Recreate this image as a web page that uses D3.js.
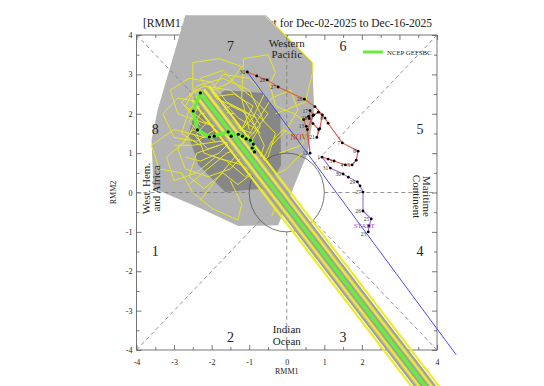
<!DOCTYPE html>
<html><head><meta charset="utf-8">
<script src="https://cdn.jsdelivr.net/npm/d3@7"></script>
<style>body{margin:0;background:#fff}svg{display:block}text{font-family:"Liberation Serif","Times New Roman",serif}</style>
</head><body><svg id="c" width="544" height="386"></svg>
<script>
// ---------- data ----------
const majorTicks = [-4,-3,-2,-1,0,1,2,3,4];
const minorTicks = [-3.5,-2.5,-1.5,-0.5,0.5,1.5,2.5,3.5];
const phaseNames = ["1","2","3","4","5","6","7","8"];
const phaseX = [-3.5,-1.5,1.5,3.55,3.55,1.5,-1.5,-3.5];
const phaseY = [-1.5,-3.67,-3.67,-1.5,1.6,3.72,3.72,1.6];

// ensemble spread polygons
const spreadLightX = [-2.70,-0.55,0.68,0.73,0.55,-0.23,-1.29,-2.30,-3.55,-3.60,-3.44];
const spreadLightY = [4.5,4.5,3.31,2.09,1.0,-0.83,-0.85,-0.40,0.11,1.33,2.09];
const spreadDarkX = [-2.43,-1.64,-0.65,-0.17,-0.15,-0.49,-1.64,-2.35,-2.62];
const spreadDarkY = [2.09,2.60,2.53,1.97,0.70,0.11,0.01,0.70,1.46];

// ensemble members (yellow)
const m1 = [[-0.9,1.3],[-1.4,1.8],[-2.0,2.2],[-2.5,2.6],[-2.5,3.3],[-1.8,3.4],[-1.2,3.2],[-1.5,2.8],[-2.2,2.5],[-2.6,2.1],[-2.8,1.5],[-2.3,1.2]];
const m2 = [[-1.0,1.6],[-1.2,2.4],[-1.15,3.4],[-0.5,3.5],[-0.3,3.05],[-0.45,2.75],[-0.3,2.2],[0.2,2.0],[0.6,1.7],[0.4,1.2],[-0.2,1.0]];
const m3 = [[-1.5,1.5],[-2.2,1.4],[-3.0,1.6],[-3.6,1.2],[-3.4,0.6],[-2.8,0.5],[-2.5,0.0],[-2.0,-0.4],[-1.3,-0.7],[-1.2,-0.3],[-1.5,0.3]];
const m4 = [[-1.8,1.2],[-2.4,1.0],[-2.6,0.4],[-2.2,0.1],[-1.7,0.5],[-1.3,0.2],[-0.9,0.5],[-0.5,0.9],[-0.3,1.5],[-0.8,2.0]];
const m5 = [[-2.0,1.7],[-2.9,2.0],[-3.1,2.6],[-2.6,2.9],[-2.0,2.8],[-1.6,2.3],[-1.0,2.0],[-0.6,1.2],[-0.8,0.6]];
const m6 = [[-1.3,1.4],[-1.7,2.1],[-2.3,2.0],[-2.7,1.3],[-3.2,0.9],[-3.0,0.3],[-2.4,0.5],[-1.9,0.9],[-1.2,0.7],[-0.6,0.3],[0.0,0.6],[0.4,1.0]];
const m7 = [[-0.6,1.8],[-1.0,2.6],[-1.7,2.9],[-2.4,2.7],[-2.7,2.2],[-2.2,1.8],[-1.7,1.6],[-1.0,1.1],[-0.5,0.4],[-0.2,-0.2],[-0.4,-0.6]];
const m8 = [[-0.4,1.2],[0.0,1.6],[0.3,2.1],[0.1,2.6],[-0.4,2.4],[-0.8,1.8],[-1.3,1.0],[-1.9,0.3],[-2.3,-0.2]];
const m9 = [[-2.2,1.4],[-2.6,1.8],[-2.2,2.4],[-1.4,2.5],[-0.9,2.2],[-1.2,1.6],[-1.8,1.0],[-2.3,0.8],[-2.7,0.9]];
const m10 = [[-1.6,1.9],[-2.0,2.6],[-1.7,3.0],[-1.0,2.9],[-0.6,2.5],[-0.9,1.9],[-1.5,1.3],[-2.1,1.1],[-2.5,1.5]];
const m11 = [[-0.3,2.0],[0.5,2.3],[0.7,3.1],[0.68,3.31],[-0.1,4.05],[-0.6,4.5]];
const m12 = [[-1.1,1.5],[-1.6,1.9],[-2.3,2.3],[-2.9,2.4],[-3.3,2.0],[-3.0,1.4],[-2.4,1.3],[-1.9,1.6],[-1.4,1.2],[-1.0,0.8]];
const m13 = [[-0.7,1.5],[-1.2,2.1],[-1.9,2.4],[-2.3,2.9],[-1.7,3.1],[-1.3,2.7],[-0.9,2.4],[-0.5,2.0],[-0.9,1.5],[-1.5,1.7]];
const m14 = [[-1.9,1.3],[-2.5,1.6],[-2.9,1.1],[-2.7,0.6],[-2.1,0.4],[-1.5,0.6],[-1.1,1.0],[-1.4,1.5],[-2.0,1.9],[-2.4,2.3]];
const m15 = [[-1.4,2.0],[-2.1,2.1],[-2.6,2.5],[-2.2,2.7],[-1.5,2.6],[-1.1,2.3],[-0.7,1.7],[-1.0,1.2],[-1.6,1.0],[-2.1,0.6],[-2.6,0.2]];
const m16 = [[-0.8,1.9],[-1.5,2.2],[-2.0,1.9],[-2.4,1.5],[-2.2,1.0],[-1.6,0.8],[-1.1,0.4],[-0.7,0.7],[-0.4,1.3],[-0.1,1.6],[0.3,1.4]];
const m17 = [[-2.3,1.7],[-2.8,2.3],[-2.4,2.6],[-1.9,2.5],[-1.3,1.9],[-0.8,1.6],[-1.2,1.2],[-1.8,1.3],[-2.5,1.2],[-3.0,1.2]];
const members = [m1,m2,m3,m4,m5,m6,m7,m8,m9,m10,m11,m12,m13,m14,m15,m16,m17];

// runaway band (members' last segments)
const bandStartX = [-2.53,-2.47,-2.41,-2.35,-2.25,-2.20,-2.13,-2.07];
const bandStartY = [2.36,2.41,2.45,2.49,2.57,2.61,2.65,2.70];
const bandEndX = [4.00,4.06,4.13,4.18,4.28,4.34,4.40,4.46];
const bandEndY = [-5.77,-5.72,-5.68,-5.64,-5.56,-5.52,-5.48,-5.43];
const bandKind = ["y","g","y","g","g","y","g","y"];

// ensemble mean forecast (green)
const fcX = [-0.86,-0.92,-0.89,-0.97,-1.08,-1.18,-1.29,-1.48,-1.56,-1.93,-2.06,-2.38,-2.49,-2.30];
const fcY = [1.03,1.13,1.23,1.33,1.36,1.43,1.48,1.43,1.54,1.43,1.41,1.59,2.07,2.53];
const fcFarX = 4.23, fcFarY = -5.60;

// observed track
const octX = [2.17,2.19,2.25,2.03,2.03,1.95,1.88,1.64,1.50,1.16];
const octY = [-1.00,-0.85,-0.67,-0.47,0.01,0.17,0.27,0.39,0.47,0.62];
const octLbl = ["23","","25","26","27","","29","","30","31"];
const novX = [0.94,1.10,1.26,1.56,1.74,1.85,1.90,1.48,1.10,1.02,0.84,0.70,0.55,0.62,0.52,0.45,0.58,0.72,0.62,0.60,0.70,0.85,0.80,0.88,0.95,0.75,0.47,-0.23,-0.52,-0.80,-1.05];
const novY = [0.90,0.85,0.80,0.70,0.70,0.82,1.05,1.26,1.76,1.89,2.04,1.95,1.60,1.00,1.68,1.85,1.93,1.97,2.08,1.88,1.75,1.60,1.40,1.62,1.97,2.18,2.37,2.68,2.86,2.96,3.06];
const novLbl = ["1","","3","4","5","","6","7","","8","","","","12","13","","","","17","18","","","21","","","","26","27","28","","30"];
const blueEnd = [4.51,-4.12];

// ---------- drawing ----------
const svg = d3.select("#c");
const x = d3.scaleLinear().domain([-4,4]).range([136.5,437]);
const y = d3.scaleLinear().domain([-4,4]).range([350,35]);
const line = d3.line().x(d=>x(d[0])).y(d=>y(d[1]));

const axG = svg.append("g");
function axis(gen, tr, vals, size, labels){
  const g = axG.append("g").attr("transform", tr).call(gen.tickValues(vals).tickSizeInner(size).tickSizeOuter(0)
      .tickFormat(labels ? (d=>String(d)) : "").tickPadding(labels ? 9 : 0));
  g.select(".domain").remove();
  g.selectAll("line").attr("stroke","#555").attr("stroke-width",0.8);
  g.selectAll("text").attr("font-size",8).attr("fill","#222").style("font-family",'"Liberation Serif",serif');
  return g;
}
axis(d3.axisBottom(x), "translate(0,350)", majorTicks, -5, true);
axis(d3.axisBottom(x), "translate(0,350)", minorTicks, -3, false);
axis(d3.axisTop(x), "translate(0,35)", majorTicks, -5, false);
axis(d3.axisTop(x), "translate(0,35)", minorTicks, -3, false);
axis(d3.axisLeft(y), "translate(136.5,0)", majorTicks, -5, true).selectAll("text").attr("x",-4);
axis(d3.axisLeft(y), "translate(136.5,0)", minorTicks, -3, false);
axis(d3.axisRight(y), "translate(437,0)", majorTicks, -5, false);
axis(d3.axisRight(y), "translate(437,0)", minorTicks, -3, false);
axG.append("rect").attr("x",x(-4)).attr("y",y(4)).attr("width",x(4)-x(-4)).attr("height",y(-4)-y(4))
  .attr("fill","none").attr("stroke","#555").attr("stroke-width",0.8);

// axis titles
svg.append("text").attr("x",x(0)).attr("y",374).attr("text-anchor","middle").attr("font-size",8).attr("fill","#222").text("RMM1");
svg.append("text").attr("transform",`translate(116,${y(0)}) rotate(-90)`).attr("text-anchor","middle").attr("font-size",8).attr("fill","#222").text("RMM2");

// title
svg.append("text").attr("x",143).attr("y",27).attr("font-size",11.5).attr("fill","#222").text("[RMM1,RMM2]");
svg.append("text").attr("x",432).attr("y",27).attr("text-anchor","end").attr("font-size",11.5).attr("fill","#222").text("Forecast for Dec-02-2025 to Dec-16-2025");

// spread polygons
svg.append("path").attr("d", line(d3.zip(spreadLightX, spreadLightY)) + "Z").attr("fill","#b3b3b3");
svg.append("path").attr("d", line(d3.zip(spreadDarkX, spreadDarkY)) + "Z").attr("fill","#878787");

// phase dividers
const dash = svg.append("g").attr("stroke","#7a7a7a").attr("stroke-width",0.8).attr("stroke-dasharray","4,3");
const r = Math.SQRT1_2;
[[-4,-4,-r,-r],[4,4,r,r],[-4,4,-r,r],[4,-4,r,-r],[-4,0,-1,0],[1,0,4,0],[0,1,0,4],[0,-1,0,-4]].forEach(s=>{
  dash.append("line").attr("x1",x(s[0])).attr("y1",y(s[1])).attr("x2",x(s[2])).attr("y2",y(s[3]));
});
svg.append("ellipse").attr("cx",x(0)).attr("cy",y(0)).attr("rx",x(1)-x(0)).attr("ry",y(0)-y(1))
  .attr("fill","none").attr("stroke","#555").attr("stroke-width",0.8);

// members
svg.append("g").selectAll("path").data(members).join("path").attr("d",line)
  .attr("fill","none").attr("stroke","#e6e628").attr("stroke-width",1);

// band: gray underlay + member lines
svg.append("line").attr("x1",x(fcX[fcX.length-1])).attr("y1",y(fcY[fcY.length-1])).attr("x2",x(fcFarX)).attr("y2",y(fcFarY))
  .attr("stroke","#b4b4a2").attr("stroke-width",18);
svg.append("g").selectAll("line").data(bandKind).join("line")
  .attr("x1",(d,i)=>x(bandStartX[i])).attr("y1",(d,i)=>y(bandStartY[i]))
  .attr("x2",(d,i)=>x(bandEndX[i])).attr("y2",(d,i)=>y(bandEndY[i]))
  .attr("stroke",d=>d==="y"?"#ecec2a":"#9c9c94").attr("stroke-width",d=>d==="y"?2.2:1.2);

// forecast mean
const fc = d3.zip(fcX, fcY);
svg.append("path").attr("d", line(fc.concat([[fcFarX,fcFarY]]))).attr("fill","none")
  .attr("stroke","#66ee3a").attr("stroke-width",3.5).attr("stroke-linejoin","round");
svg.append("g").selectAll("circle").data(fc).join("circle").attr("cx",d=>x(d[0])).attr("cy",d=>y(d[1])).attr("r",1.6).attr("fill","#000");

// blue line from last observation
svg.append("line").attr("x1",x(novX[novX.length-1])).attr("y1",y(novY[novY.length-1]))
  .attr("x2",x(blueEnd[0])).attr("y2",y(blueEnd[1])).attr("stroke","#4a4af5").attr("stroke-width",1);

// observed
const oct = d3.zip(octX, octY);
const nov = d3.zip(novX, novY);
svg.append("path").attr("d", line(oct.concat([nov[0]]))).attr("fill","none").attr("stroke","#9a6ad0").attr("stroke-width",1.1);
svg.append("path").attr("d", line(nov.slice(0, nov.length-5))).attr("fill","none").attr("stroke","#d85050").attr("stroke-width",1.1);
svg.append("path").attr("d", line(nov.slice(nov.length-6))).attr("fill","none").attr("stroke","#e06030").attr("stroke-width",1.1);
svg.append("g").selectAll("circle").data(oct.concat(nov)).join("circle")
  .attr("cx",d=>x(d[0])).attr("cy",d=>y(d[1])).attr("r",1.4).attr("fill","#000");
const lblG = svg.append("g").attr("font-size",5.5).attr("fill","#333").attr("text-anchor","end");
oct.forEach((d,i)=>{ if(octLbl[i]) lblG.append("text").attr("x",x(d[0])-2).attr("y",y(d[1])+(i===0?4:2)).text(octLbl[i]); });
nov.forEach((d,i)=>{ if(novLbl[i]) lblG.append("text").attr("x",x(d[0])-2).attr("y",y(d[1])+2).text(novLbl[i]); });
svg.append("text").attr("x",x(octX[0])-4).attr("y",y(octY[0])-4).attr("text-anchor","middle").attr("font-size",7).attr("fill","#8a4ac0").text("START");
svg.append("text").attr("x",x(novX[22])-10).attr("y",y(novY[22])+2.5).attr("text-anchor","end").attr("font-size",7.5).attr("fill","#c83030").text("NOV");

// phase labels
svg.append("g").selectAll("text").data(phaseNames).join("text")
  .attr("x",(d,i)=>x(phaseX[i])).attr("y",(d,i)=>y(phaseY[i])).attr("dy","0.35em")
  .attr("text-anchor","middle").attr("font-size",14).attr("fill","#222").text(d=>d);

const reg = svg.append("g").attr("font-size",11).attr("fill","#222").attr("text-anchor","middle");
reg.append("text").attr("x",x(0)).attr("y",47).text("Western");
reg.append("text").attr("x",x(0)).attr("y",58).text("Pacific");
reg.append("text").attr("x",x(0)).attr("y",333).text("Indian");
reg.append("text").attr("x",x(0)).attr("y",345).text("Ocean");
reg.append("text").attr("transform",`translate(150,${y(0)-4}) rotate(-90)`).text("West. Hem.");
reg.append("text").attr("transform",`translate(160,${y(0)-4}) rotate(-90)`).text("and Africa");
reg.append("text").attr("transform",`translate(423,${y(0)+4}) rotate(90)`).text("Maritime");
reg.append("text").attr("transform",`translate(413,${y(0)+4}) rotate(90)`).text("Continent");

// legend
svg.append("line").attr("x1",363).attr("x2",383).attr("y1",52).attr("y2",52).attr("stroke","#66ee3a").attr("stroke-width",3);
svg.append("text").attr("x",387).attr("y",54.5).attr("font-size",6.8).attr("fill","#222").text("NCEP GEFSBC");
</script></body></html>
